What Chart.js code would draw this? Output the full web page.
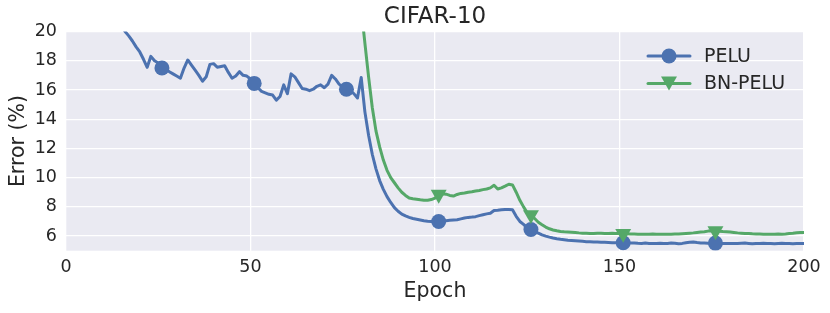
<!DOCTYPE html>
<html>
<head>
<meta charset="utf-8">
<title>CIFAR-10</title>
<script src="https://cdn.jsdelivr.net/npm/chart.js@4.4.1/dist/chart.umd.min.js"></script>
<style>
  html, body { margin: 0; padding: 0; background: #fff; }
  #wrap { width: 830px; height: 313px; position: relative; }
</style>
</head>
<body>
<div id="wrap"><canvas id="chart"></canvas></div>
<script>
// Test error per epoch
const epochs = Array.from({ length: 200 }, (_, i) => i + 1);

const pelu = [
    45.0, 36.0, 31.2, 28.3, 26.4, 25.0, 24.0, 23.2, 22.5, 21.9,
    21.4, 21.0, 20.8, 20.6, 20.4, 20.0, 19.7, 19.35, 18.95, 18.6,
    18.1, 17.55, 18.3, 18.0, 17.85, 17.5, 17.35, 17.25, 17.1, 16.95,
    16.8, 17.5, 18.05, 17.7, 17.35, 17.0, 16.6, 16.9, 17.75, 17.8,
    17.55, 17.6, 17.65, 17.2, 16.8, 16.95, 17.25, 17.0, 16.95, 16.75,
    16.45, 16.15, 15.9, 15.8, 15.7, 15.65, 15.3, 15.55, 16.35, 15.75,
    17.1, 16.9, 16.5, 16.1, 16.05, 15.95, 16.05, 16.25, 16.35, 16.15,
    16.4, 17.0, 16.75, 16.4, 16.2, 16.05, 15.95, 15.75, 15.45, 16.85,
    14.5, 12.9, 11.6, 10.6, 9.8, 9.2, 8.7, 8.3, 7.95, 7.7,
    7.5, 7.38, 7.28, 7.2, 7.15, 7.1, 7.05, 7.02, 7.0, 6.98,
    7.0, 7.03, 7.05, 7.08, 7.1, 7.12, 7.18, 7.24, 7.28, 7.3,
    7.33, 7.4, 7.46, 7.52, 7.56, 7.75, 7.77, 7.8, 7.82, 7.82,
    7.8, 7.35, 7.0, 6.8, 6.55, 6.45, 6.3, 6.2, 6.08, 6.0,
    5.93, 5.87, 5.82, 5.78, 5.75, 5.72, 5.7, 5.68, 5.66, 5.64,
    5.62, 5.61, 5.6, 5.59, 5.58, 5.57, 5.56, 5.55, 5.55, 5.54,
    5.54, 5.53, 5.52, 5.53, 5.51, 5.5, 5.52, 5.5, 5.49, 5.5,
    5.51, 5.49, 5.5, 5.53, 5.51, 5.48, 5.5, 5.55, 5.58, 5.6,
    5.56, 5.53, 5.52, 5.51, 5.5, 5.52, 5.5, 5.49, 5.5, 5.5,
    5.5, 5.49, 5.51, 5.52, 5.5, 5.48, 5.49, 5.5, 5.51, 5.5,
    5.49, 5.48, 5.5, 5.51, 5.5, 5.49, 5.48, 5.49, 5.5, 5.49
];

// BN-PELU stays above the plot until epoch ~80
const bnStart = 79;
const bnPelu = [
    24.5, 21.6,
    19.2, 16.9, 14.8, 13.2, 12.1, 11.2, 10.5, 10.0, 9.65, 9.3,
    9.0, 8.78, 8.6, 8.55, 8.52, 8.48, 8.45, 8.45, 8.5, 8.6,
    8.85, 8.9, 8.87, 8.78, 8.74, 8.85, 8.92, 8.95, 9.0, 9.03,
    9.08, 9.12, 9.18, 9.22, 9.3, 9.48, 9.22, 9.3, 9.42, 9.55,
    9.5, 9.0, 8.45, 8.0, 7.6, 7.45, 7.2, 6.95, 6.78, 6.62,
    6.5, 6.42, 6.36, 6.31, 6.29, 6.28, 6.27, 6.25, 6.22, 6.2,
    6.19, 6.18, 6.18, 6.2, 6.19, 6.17, 6.18, 6.19, 6.18, 6.18,
    6.17, 6.16, 6.15, 6.14, 6.13, 6.13, 6.12, 6.13, 6.14, 6.13,
    6.12, 6.13, 6.12, 6.13, 6.15, 6.14, 6.16, 6.18, 6.2, 6.22,
    6.25, 6.28, 6.3, 6.34, 6.36, 6.35, 6.33, 6.31, 6.3, 6.28,
    6.25, 6.22, 6.2, 6.18, 6.18, 6.16, 6.15, 6.14, 6.13, 6.13,
    6.12, 6.13, 6.14, 6.13, 6.15, 6.18, 6.2, 6.23, 6.24, 6.24
];

const markerEpochs = [26, 51, 76, 101, 126, 151, 176];
const xTicks = [0, 50, 100, 150, 200];
const yTicks = [6, 8, 10, 12, 14, 16, 18, 20];
const seriesNames = ['PELU', 'BN-PELU'];
const seriesColors = ['#4C72B0', '#55A868'];

const textColor = '#262626';
const fontFamily = "'DejaVu Sans', sans-serif";

// seaborn style gray plot area
const plotBackground = {
    id: 'plotBackground',
    beforeDraw(chart) {
        const { ctx, chartArea: a } = chart;
        ctx.save();
        ctx.fillStyle = '#EAEAF2';
        ctx.fillRect(a.left, a.top, a.right - a.left, a.bottom - a.top);
        ctx.restore();
    }
};

// legend inside the top right corner, no frame
const innerLegend = {
    id: 'innerLegend',
    afterDraw(chart) {
        const { ctx, chartArea: a } = chart;
        const x0 = a.right - 156;
        const x1 = a.right - 114;
        const mx = (x0 + x1) / 2;
        const rows = [a.top + 24.5, a.top + 52];
        ctx.save();
        rows.forEach((y, i) => {
            ctx.strokeStyle = seriesColors[i];
            ctx.fillStyle = seriesColors[i];
            ctx.lineWidth = 3;
            ctx.lineCap = 'round';
            ctx.beginPath();
            ctx.moveTo(x0, y);
            ctx.lineTo(x1, y);
            ctx.stroke();
            ctx.beginPath();
            if (i === 0) {
                ctx.arc(mx, y, 7.5, 0, Math.PI * 2);
            } else {
                ctx.moveTo(mx - 8, y - 7);
                ctx.lineTo(mx + 8, y - 7);
                ctx.lineTo(mx, y + 7);
                ctx.closePath();
            }
            ctx.fill();
            ctx.fillStyle = textColor;
            ctx.font = '19px ' + fontFamily;
            ctx.textAlign = 'left';
            ctx.textBaseline = 'middle';
            ctx.fillText(seriesNames[i], a.right - 100, y + 1);
        });
        ctx.restore();
    }
};

const isMarker = (list) => (ctx) => markerEpochs.includes(list[ctx.dataIndex]) ;

const bnEpochs = bnPelu.map((_, i) => bnStart + i);

new Chart(document.getElementById('chart'), {
    type: 'line',
    data: {
        datasets: [{
            label: seriesNames[0],
            data: epochs.map((e, i) => ({ x: e, y: pelu[i] })),
            borderColor: seriesColors[0],
            backgroundColor: seriesColors[0],
            borderWidth: 3,
            borderJoinStyle: 'round',
            borderCapStyle: 'round',
            pointStyle: 'circle',
            pointRadius: ctx => isMarker(epochs)(ctx) ? 7.5 : 0,
            pointBorderWidth: 0,
            pointBackgroundColor: seriesColors[0],
            tension: 0,
            order: 1
        }, {
            label: seriesNames[1],
            data: bnEpochs.map((e, i) => ({ x: e, y: bnPelu[i] })),
            borderColor: seriesColors[1],
            backgroundColor: seriesColors[1],
            borderWidth: 3,
            borderJoinStyle: 'round',
            borderCapStyle: 'round',
            pointStyle: 'triangle',
            pointRotation: 180,
            pointRadius: ctx => isMarker(bnEpochs)(ctx) ? 9.2 : 0,
            pointBorderWidth: 0,
            pointBackgroundColor: seriesColors[1],
            tension: 0,
            order: 0
        }]
    },
    options: {
        responsive: true,
        maintainAspectRatio: false,
        animation: false,
        layout: { padding: { left: 0, right: 26, top: 0, bottom: 0 } },
        plugins: {
            legend: { display: false },
            tooltip: { enabled: false },
            title: {
                display: true,
                text: 'CIFAR-10',
                fullSize: false,
                color: textColor,
                font: { family: fontFamily, size: 23, weight: 'normal' },
                padding: { top: 3.7, bottom: 0.2 }
            }
        },
        scales: {
            x: {
                type: 'linear',
                min: 0,
                max: 200,
                afterBuildTicks: s => { s.ticks = xTicks.map(v => ({ value: v })); },
                afterFit: s => { s.height = 62.3; },
                grid: { color: '#FFFFFF', lineWidth: 1.3, drawTicks: false },
                border: { display: false },
                ticks: {
                    color: textColor,
                    font: { family: fontFamily, size: 17.5 },
                    padding: 6,
                    maxRotation: 0
                },
                title: {
                    display: true,
                    text: 'Epoch',
                    color: textColor,
                    font: { family: fontFamily, size: 20.5 },
                    padding: { top: 0, bottom: 8.7 }
                }
            },
            y: {
                min: 5,
                max: 20,
                afterBuildTicks: s => { s.ticks = yTicks.map(v => ({ value: v })); },
                afterFit: s => { s.width = 66; },
                grid: { color: '#FFFFFF', lineWidth: 1.3, drawTicks: false },
                border: { display: false },
                ticks: {
                    color: textColor,
                    font: { family: fontFamily, size: 17.5 },
                    padding: 9
                },
                title: {
                    display: true,
                    text: 'Error (%)',
                    color: textColor,
                    font: { family: fontFamily, size: 20.5 },
                    padding: { top: 6.2, bottom: 0 }
                }
            }
        }
    },
    plugins: [plotBackground, innerLegend]
});
</script>
</body>
</html>
